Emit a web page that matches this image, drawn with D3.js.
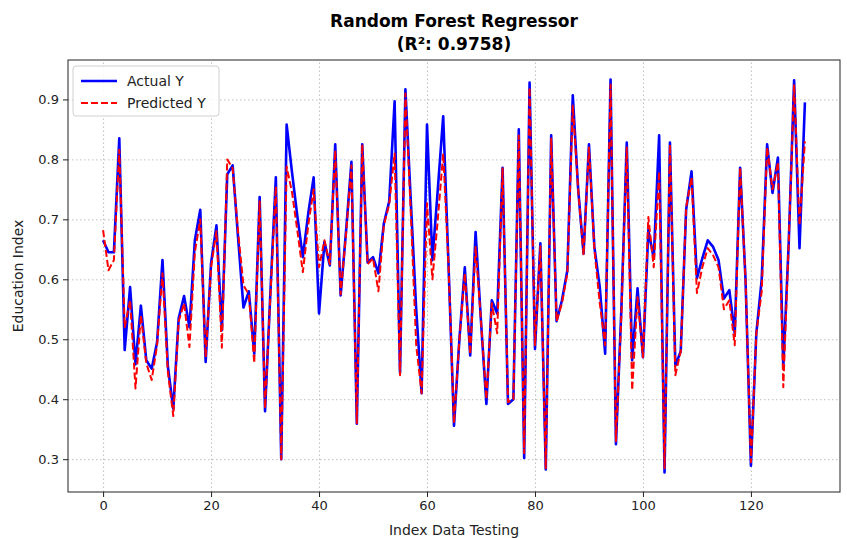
<!DOCTYPE html>
<html>
<head>
<meta charset="utf-8">
<script src="https://cdn.jsdelivr.net/npm/d3@7"></script>
<style>
  body { margin: 0; background: #fff; }
  text { font-family: "DejaVu Sans", sans-serif; }
  .grid line { stroke: #b0b0b0; stroke-dasharray: 1.5 2.5; stroke-width: 0.8; }
  .grid .domain { display: none; }
</style>
</head>
<body>
<svg id="chart-svg" width="847" height="538"></svg>
<script>
// Values
const actualY = [
  0.665, 0.645, 0.645, 0.835, 0.482, 0.587, 0.458, 0.556, 0.465, 0.451,
  0.495, 0.632, 0.455, 0.384, 0.535, 0.572, 0.520, 0.665, 0.716, 0.462,
  0.627, 0.690, 0.515, 0.775, 0.790, 0.670, 0.553, 0.580, 0.476, 0.737,
  0.380, 0.580, 0.770, 0.300, 0.858, 0.778, 0.704, 0.637, 0.710, 0.770,
  0.543, 0.662, 0.623, 0.825, 0.573, 0.680, 0.796, 0.359, 0.825, 0.628,
  0.637, 0.610, 0.693, 0.730, 0.897, 0.444, 0.917, 0.730, 0.550, 0.410,
  0.858, 0.632, 0.750, 0.872, 0.620, 0.356, 0.500, 0.620, 0.473, 0.679,
  0.530, 0.392, 0.565, 0.543, 0.786, 0.392, 0.400, 0.850, 0.302, 0.928,
  0.484, 0.660, 0.283, 0.840, 0.530, 0.565, 0.615, 0.907, 0.750, 0.643,
  0.825, 0.654, 0.587, 0.476, 0.933, 0.325, 0.550, 0.828, 0.465, 0.585,
  0.470, 0.682, 0.635, 0.840, 0.278, 0.828, 0.456, 0.480, 0.716, 0.780,
  0.602, 0.635, 0.665, 0.654, 0.632, 0.568, 0.582, 0.510, 0.786, 0.600,
  0.289, 0.510, 0.600, 0.825, 0.744, 0.803, 0.455, 0.660, 0.932, 0.652,
  0.895
];

const predictedY = [
  0.682, 0.615, 0.632, 0.816, 0.520, 0.565, 0.418, 0.540, 0.460, 0.432,
  0.490, 0.610, 0.445, 0.372, 0.530, 0.560, 0.487, 0.645, 0.700, 0.470,
  0.620, 0.680, 0.486, 0.800, 0.785, 0.680, 0.590, 0.575, 0.460, 0.730,
  0.385, 0.575, 0.755, 0.300, 0.788, 0.745, 0.680, 0.612, 0.690, 0.750,
  0.620, 0.665, 0.625, 0.815, 0.575, 0.675, 0.790, 0.360, 0.825, 0.625,
  0.635, 0.580, 0.690, 0.725, 0.810, 0.440, 0.910, 0.710, 0.490, 0.410,
  0.727, 0.600, 0.700, 0.810, 0.620, 0.360, 0.500, 0.610, 0.475, 0.654,
  0.530, 0.400, 0.560, 0.510, 0.785, 0.395, 0.400, 0.840, 0.310, 0.920,
  0.490, 0.655, 0.285, 0.835, 0.530, 0.560, 0.610, 0.890, 0.750, 0.640,
  0.820, 0.650, 0.560, 0.490, 0.925, 0.330, 0.540, 0.820, 0.415, 0.570,
  0.470, 0.704, 0.620, 0.780, 0.285, 0.825, 0.440, 0.480, 0.720, 0.770,
  0.577, 0.620, 0.652, 0.640, 0.620, 0.550, 0.565, 0.490, 0.786, 0.600,
  0.295, 0.510, 0.580, 0.820, 0.750, 0.795, 0.420, 0.660, 0.925, 0.690,
  0.830
];

const xTicks = [0, 20, 40, 60, 80, 100, 120];
const yTicks = [0.3, 0.4, 0.5, 0.6, 0.7, 0.8, 0.9];

const seriesNames = ["Actual Y", "Predicted Y"];

/**
 * Build the chart
 */
function renderChart() {
  const svg = d3.select("#chart-svg");
  const margin = { left: 68, right: 7, top: 60, bottom: 46 };
  const width = 847 - margin.left - margin.right;
  const height = 538 - margin.top - margin.bottom;

  // matplotlib style 5% padding around the data
  const n = actualY.length;
  const xPad = (n - 1) * 0.05;
  const all = actualY.concat(predictedY);
  const [yMin, yMax] = d3.extent(all);
  const yPad = (yMax - yMin) * 0.05;

  const x = d3.scaleLinear().domain([-xPad, n - 1 + xPad]).range([0, width]);
  const y = d3.scaleLinear().domain([yMin - yPad, yMax + yPad]).range([height, 0]);

  const main = svg.append("g").attr("transform", "translate(" + margin.left + "," + margin.top + ")");

  // Grid
  main.append("g").attr("class", "grid")
    .attr("transform", "translate(0," + height + ")")
    .call(d3.axisBottom(x).tickValues(xTicks).tickSize(-height).tickFormat(""));
  main.append("g").attr("class", "grid")
    .call(d3.axisLeft(y).tickValues(yTicks).tickSize(-width).tickFormat(""));

  // Lines
  const line = d3.line()
    .x((d, i) => x(i))
    .y(d => y(d));

  main.append("path")
    .datum(actualY)
    .attr("fill", "none")
    .attr("stroke", "#0000ff")
    .attr("stroke-width", 2.6)
    .attr("stroke-linejoin", "round")
    .attr("d", line);

  main.append("path")
    .datum(predictedY)
    .attr("fill", "none")
    .attr("stroke", "#ff0000")
    .attr("stroke-width", 2)
    .attr("stroke-dasharray", "7 3")
    .attr("stroke-linejoin", "round")
    .attr("d", line);

  // Axes
  const xAxis = main.append("g")
    .attr("transform", "translate(0," + height + ")")
    .call(d3.axisBottom(x).tickValues(xTicks).tickSize(5).tickPadding(4));
  const yAxis = main.append("g")
    .call(d3.axisLeft(y).tickValues(yTicks).tickFormat(d3.format(".1f")).tickSize(5).tickPadding(4));

  [xAxis, yAxis].forEach(a => {
    a.selectAll("text").attr("font-size", 13).attr("fill", "#222");
    a.selectAll(".tick line").attr("stroke", "#222");
    a.select(".domain").remove();
  });

  // Frame
  main.append("rect")
    .attr("width", width)
    .attr("height", height)
    .attr("fill", "none")
    .attr("stroke", "#222")
    .attr("stroke-width", 1);

  // Titles and labels
  svg.append("text")
    .attr("x", margin.left + width / 2)
    .attr("y", 27)
    .attr("text-anchor", "middle")
    .attr("font-size", 17)
    .attr("font-weight", "bold")
    .text("Random Forest Regressor");
  svg.append("text")
    .attr("x", margin.left + width / 2)
    .attr("y", 50)
    .attr("text-anchor", "middle")
    .attr("font-size", 17)
    .attr("font-weight", "bold")
    .text("(R²: 0.9758)");

  svg.append("text")
    .attr("x", margin.left + width / 2)
    .attr("y", 535)
    .attr("text-anchor", "middle")
    .attr("font-size", 14)
    .attr("fill", "#222")
    .text("Index Data Testing");

  svg.append("text")
    .attr("transform", "translate(23," + (margin.top + height / 2) + ") rotate(-90)")
    .attr("text-anchor", "middle")
    .attr("font-size", 14)
    .attr("fill", "#222")
    .text("Education Index");

  // Legend
  const legend = main.append("g").attr("transform", "translate(5,6)");
  legend.append("rect")
    .attr("width", 146)
    .attr("height", 50)
    .attr("rx", 3)
    .attr("fill", "#fff")
    .attr("fill-opacity", 0.85)
    .attr("stroke", "#d0d0d0");

  seriesNames.forEach((name, i) => {
    const g = legend.append("g").attr("transform", "translate(8," + (15 + i * 22) + ")");
    g.append("line")
      .attr("x1", 0).attr("x2", 36)
      .attr("stroke", i === 0 ? "#0000ff" : "#ff0000")
      .attr("stroke-width", i === 0 ? 2.6 : 2)
      .attr("stroke-dasharray", i === 0 ? null : "7 3");
    g.append("text")
      .attr("x", 46)
      .attr("dy", "0.35em")
      .attr("font-size", 14)
      .attr("fill", "#222")
      .text(name);
  });
}

renderChart();
</script>
</body>
</html>
